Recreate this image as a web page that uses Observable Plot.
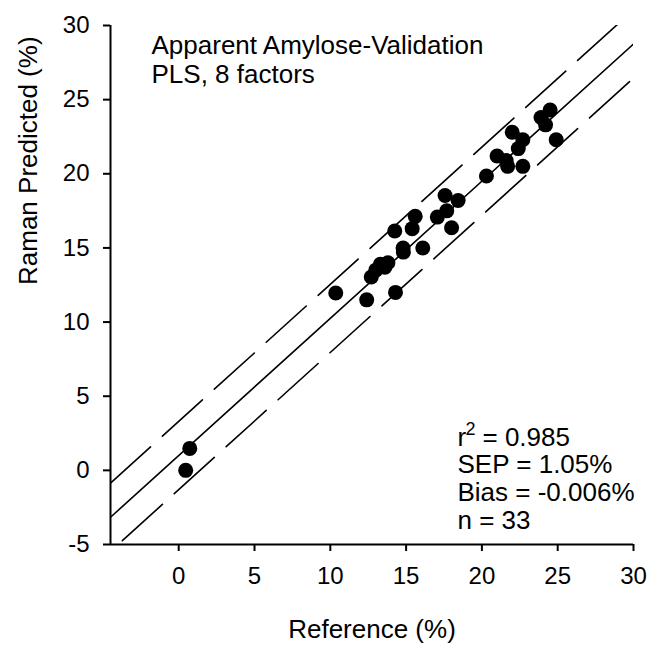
<!DOCTYPE html>
<html>
<head>
<meta charset="utf-8">
<script src="https://cdn.jsdelivr.net/npm/d3@7"></script>
<script src="https://cdn.jsdelivr.net/npm/@observablehq/plot@0.6"></script>
<style>
  html, body { margin: 0; padding: 0; background: #fff; }
</style>
</head>
<body>
<div id="chart"></div>
<script>
// Reference (%) vs Raman predicted (%)
const refX = [0.46, 0.73, 10.36, 12.4, 12.7, 13.0, 13.3, 13.6, 13.8, 14.3, 14.25, 14.8, 14.82, 15.6, 15.4, 16.1, 17.06, 17.68, 17.57, 18.0, 18.43,
              20.3, 21.0, 21.6, 21.7, 22.0, 22.4, 22.7, 22.7, 23.9, 24.2, 24.5, 24.9];
const predY = [0.0, 1.48, 11.96, 11.5, 13.04, 13.5, 13.9, 13.7, 14.0, 12.0, 16.14, 15.0, 14.72, 17.13, 16.3, 15.0, 17.08, 17.5, 18.54, 16.36, 18.2,
               19.85, 21.2, 20.9, 20.5, 22.8, 21.7, 22.3, 20.5, 23.8, 23.3, 24.3, 22.3];

const xDomain = [-4.5, 30];
const yDomain = [-5, 30];
const xTicks = [0, 5, 10, 15, 20, 25, 30];
const yTicks = [-5, 0, 5, 10, 15, 20, 25, 30];

// fitted line and prediction band
const fitLine = [1.0, 0.925];      // intercept, slope
const bandHalf = [2.3];

const titleLines = ["Apparent Amylose-Validation", "PLS, 8 factors"];
const statLines = ["SEP = 1.05%", "Bias = -0.006%", "n = 33"];
const r2Parts = ["r", "2", "= 0.985"];
const xLabel = "Reference (%)";
const yLabel = "Raman Predicted (%)";

const points = refX.map((x, i) => ({x, y: predY[i]}));
const lineFor = (off) => xDomain.map(x => ({x, y: fitLine[0] + fitLine[1] * x + off}));

const font = "'Liberation Sans', Arial, Helvetica, sans-serif";
const fmt = d => String(d);

const chart = Plot.plot({
  width: 649,
  height: 646,
  marginLeft: 110,
  marginRight: 16,
  marginTop: 25,
  marginBottom: 102,
  style: {fontFamily: font, fontSize: "26px", color: "#000", background: "#fff"},
  x: {domain: xDomain},
  y: {domain: yDomain},
  marks: [
    Plot.axisX({ticks: xTicks, tickFormat: fmt, tickSize: 7, tickPadding: 15, fontSize: 24, strokeWidth: 2, label: null}),
    Plot.axisY({ticks: yTicks, tickFormat: fmt, tickSize: 7, tickPadding: 14, fontSize: 24, strokeWidth: 2, label: null}),
    Plot.ruleX([xDomain[0]], {stroke: "#000", strokeWidth: 2}),
    Plot.ruleY([yDomain[0]], {stroke: "#000", strokeWidth: 2}),
    Plot.line(lineFor(0), {x: "x", y: "y", stroke: "#000", strokeWidth: 1.6, clip: true}),
    Plot.line(lineFor(bandHalf[0]), {x: "x", y: "y", stroke: "#000", strokeWidth: 1.6, strokeDasharray: "54,16", clip: true}),
    Plot.line(lineFor(-bandHalf[0]), {x: "x", y: "y", stroke: "#000", strokeWidth: 1.6, strokeDasharray: "54,16", strokeDashoffset: 54, clip: true}),
    Plot.dot(points, {x: "x", y: "y", r: 7.5, fill: "#000", stroke: "none"}),
    Plot.text([titleLines.join("\n")], {frameAnchor: "top-left", textAnchor: "start", lineAnchor: "bottom", lineHeight: 1.08, dx: 41, dy: 57, fontSize: 26, fill: "#000"}),
    Plot.text([r2Parts[0]], {frameAnchor: "bottom-left", textAnchor: "start", lineAnchor: "bottom", dx: 347, dy: -99, fontSize: 26, fill: "#000"}),
    Plot.text([r2Parts[1]], {frameAnchor: "bottom-left", textAnchor: "start", lineAnchor: "bottom", dx: 355, dy: -110, fontSize: 18, fill: "#000"}),
    Plot.text([r2Parts[2]], {frameAnchor: "bottom-left", textAnchor: "start", lineAnchor: "bottom", dx: 372, dy: -99, fontSize: 26, fill: "#000"}),
    Plot.text([statLines.join("\n")], {frameAnchor: "bottom-left", textAnchor: "start", lineAnchor: "bottom", lineHeight: 1.06, dx: 347, dy: -16, fontSize: 26, fill: "#000"}),
    Plot.text([xLabel], {frameAnchor: "bottom", lineAnchor: "middle", dy: 85, fontSize: 26, fill: "#000"}),
    Plot.text([yLabel], {frameAnchor: "left", lineAnchor: "middle", rotate: -90, dx: -82, fontSize: 26, fill: "#000"})
  ]
});
document.getElementById("chart").appendChild(chart);
</script>
</body>
</html>
